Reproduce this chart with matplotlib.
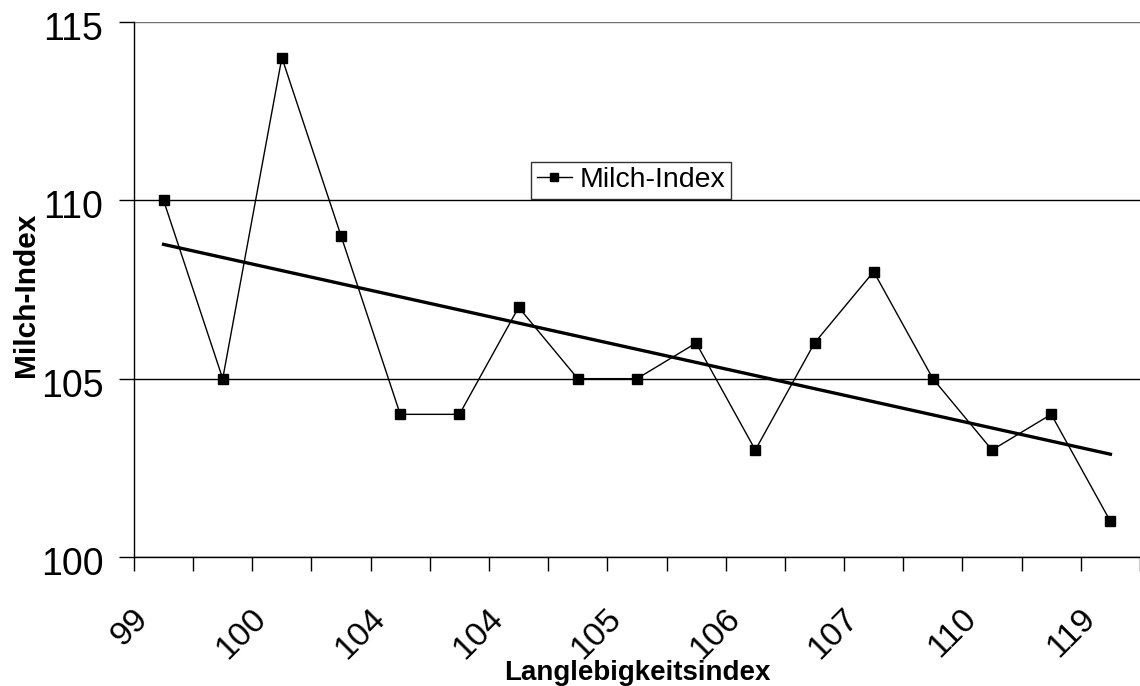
import numpy as np
import matplotlib.pyplot as plt
from matplotlib.transforms import ScaledTranslation

plt.rcParams['font.family'] = ['Liberation Sans', 'DejaVu Sans']

# Langlebigkeitsindex categories (only every other one is labelled)
categories = ['99', '', '100', '', '104', '', '104', '', '105', '', '106', '', '107', '', '110', '', '119']
milch_index = [110, 105, 114, 109, 104, 104, 107, 105, 105, 106, 103, 106, 108, 105, 103, 104, 101]

x = np.arange(1, len(milch_index) + 1)

fig = plt.figure(figsize=(11.4, 6.86), dpi=100)
ax = fig.add_axes([0.1175, 0.188, 0.8825, 0.78])

ax.plot(x, milch_index, color='black', linewidth=1.0, marker='s', markersize=7,
        label='Milch-Index', zorder=3)

# linear trend line
m, b = np.polyfit(x, milch_index, 1)
ax.plot(x, m * x + b, color='black', linewidth=2.4, zorder=2)

ax.set_xlim(0.5, len(x) + 0.5)
ax.set_ylim(100, 115)
ax.set_yticks([100, 105, 110, 115])
ax.tick_params(axis='y', labelsize=27, length=11, width=1.0, direction='out', pad=11)
ax.yaxis.grid(True, color='black', linewidth=1.0)
ax.get_ygridlines()[-1].set_color('#707070')
ax.set_axisbelow(True)
down = ScaledTranslation(0, -0.04, fig.dpi_scale_trans)
for lab in ax.get_yticklabels():
    lab.set_transform(lab.get_transform() + down)

# ticks on category boundaries, labels on categories
ax.set_xticks(np.arange(0.5, len(x) + 1.0, 1.0))
ax.set_xticklabels([])
ax.set_xticks(x, minor=True)
ax.set_xticklabels(categories, minor=True, rotation=45, ha='right', va='top',
                   fontsize=24.5)
ax.tick_params(axis='x', which='major', length=10, width=1.0, direction='out')
ax.tick_params(axis='x', which='minor', length=0, pad=33)
left = ScaledTranslation(-0.09, 0, fig.dpi_scale_trans)
for lab in ax.get_xticklabels(minor=True):
    lab.set_transform(lab.get_transform() + left)

for s in ['top', 'right']:
    ax.spines[s].set_visible(False)
for s in ['left', 'bottom']:
    ax.spines[s].set_linewidth(1.0)

ax.set_xlabel('Langlebigkeitsindex', fontsize=20, fontweight='bold')
ax.xaxis.set_label_coords(0.5, -0.192)
ax.set_ylabel('Milch-Index', fontsize=21.5, fontweight='bold')
ax.yaxis.set_label_coords(-0.093, 0.49)

leg = ax.legend(loc='lower left', bbox_to_anchor=(531 / 1140, 1 - 199 / 686),
                bbox_transform=fig.transFigure, fontsize=20.5, frameon=True,
                fancybox=False, edgecolor='black', handlelength=1.25,
                borderpad=0.2, handletextpad=0.25, borderaxespad=0)
leg.get_frame().set_linewidth(1.0)
leg.legend_handles[0].set_markersize(6)

fig.savefig('out.png', dpi=100)
